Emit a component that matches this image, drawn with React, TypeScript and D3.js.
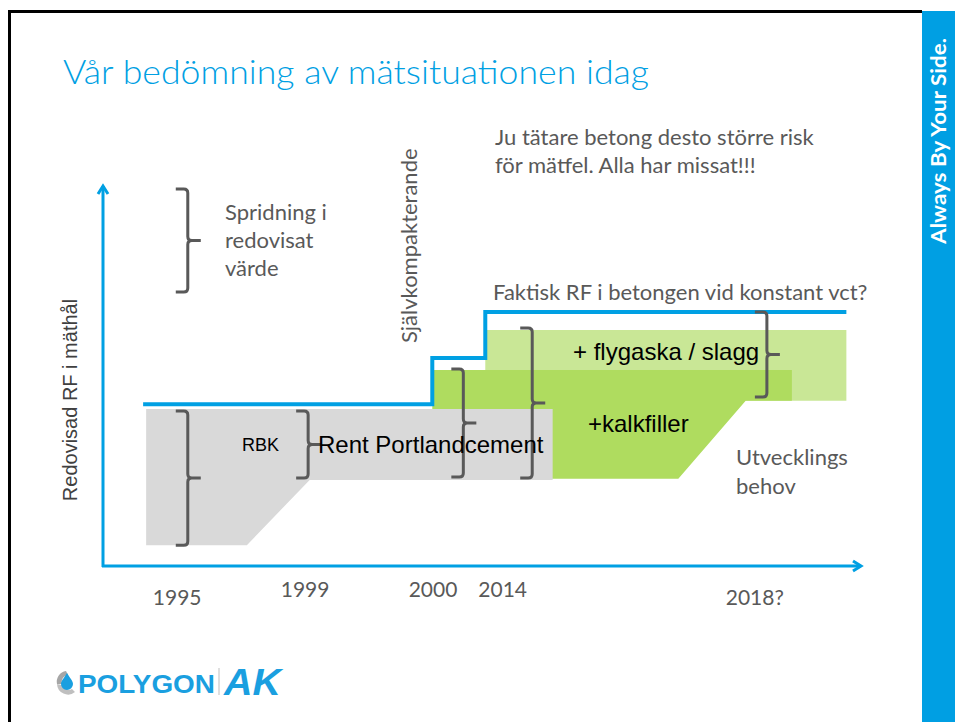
import { useEffect, useRef } from 'react';
import * as d3 from 'd3';

// schematic units: x = time line 0..100, y = RF level 0..100
const xTicks = ['1995', '1999', '2000', '2014', '2018?'];
const xTickPos = [9.8, 26.7, 43.6, 52.8, 86.1];

const grayBand: [number, number][] = [[5.7, 41.4], [59.4, 41.4], [59.4, 22.7], [27.3, 22.7], [19.0, 5.5], [5.7, 5.5]];
const greenBand: [number, number][] = [[43.5, 51.7], [91.0, 51.7], [91.0, 43.6], [84.9, 43.6], [76.0, 23.0], [43.5, 23.0]];
const lightGreenBand: [number, number][] = [[50.5, 62.3], [98.2, 62.3], [98.2, 43.6], [50.5, 43.6]];

// measured RF as a step line
const stepPoints: [number, number][] = [[5.3, 42.7], [43.5, 54.9], [50.5, 67.0], [98.2, 67.0]];

// brackets: x, top, bottom
const brackets: [number, number, number][] = [
  [11.2, 99.5, 72.3],
  [11.2, 40.9, 5.5],
  [27.1, 40.9, 23.2],
  [47.6, 52.0, 23.5],
  [56.7, 62.8, 23.2],
  [87.7, 67.0, 44.6],
];

const BLUE = '#00A0E3';
const GRAY_TEXT = '#595959';
const CAL = 'Lato, "Open Sans", sans-serif';
const ARIAL = '"Liberation Sans", Arial, sans-serif';

const App = () => {
  const svgRef = useRef<SVGSVGElement>(null);

  useEffect(() => {
    const svg = d3.select(svgRef.current);
    svg.selectAll('*').remove();

    const x = d3.scaleLinear().domain([0, 100]).range([103, 860]);
    const y = d3.scaleLinear().domain([0, 100]).range([566, 187]);

    // slide frame
    svg.append('path')
      .attr('d', 'M9.5,722 L9.5,11.5 L922,11.5')
      .attr('fill', 'none')
      .attr('stroke', '#000')
      .attr('stroke-width', 3);

    svg.append('rect')
      .attr('x', 922).attr('y', 11)
      .attr('width', 33).attr('height', 711)
      .attr('fill', '#009FE3');

    svg.append('text')
      .attr('transform', 'translate(946,141) rotate(-90)')
      .attr('text-anchor', 'middle')
      .attr('font-family', CAL)
      .attr('font-weight', 700)
      .attr('font-size', 20)
      .attr('textLength', 206)
      .attr('lengthAdjust', 'spacingAndGlyphs')
      .attr('fill', '#fff')
      .text('Always By Your Side.');

    svg.append('text')
      .attr('x', 63).attr('y', 84)
      .attr('font-family', CAL)
      .attr('font-weight', 300)
      .attr('font-size', 33)
      .attr('textLength', 586)
      .attr('lengthAdjust', 'spacingAndGlyphs')
      .attr('fill', BLUE)
      .text('Vår bedömning av mätsituationen idag');

    const poly = d3.line<[number, number]>().x(d => x(d[0])).y(d => y(d[1]));

    svg.append('path').attr('d', poly(lightGreenBand) + 'Z').attr('fill', '#C9E796');
    svg.append('path').attr('d', poly(greenBand) + 'Z').attr('fill', '#AFDC5F');
    svg.append('path').attr('d', poly(grayBand) + 'Z').attr('fill', '#D9D9D9');

    const step = d3.line<[number, number]>()
      .x(d => x(d[0])).y(d => y(d[1]))
      .curve(d3.curveStepAfter);
    svg.append('path')
      .attr('d', step(stepPoints))
      .attr('fill', 'none')
      .attr('stroke', BLUE)
      .attr('stroke-width', 4);

    // axes
    const axisG = svg.append('g').attr('stroke', BLUE).attr('stroke-width', 3).attr('fill', 'none');
    axisG.append('line').attr('x1', x(0)).attr('x2', x(0)).attr('y1', y(0) + 1).attr('y2', y(100) - 1);
    axisG.append('line').attr('x1', x(0) - 1).attr('x2', x(100) + 1).attr('y1', y(0)).attr('y2', y(0));
    axisG.append('path').attr('d', `M${x(0) - 5},${y(100) + 7} L${x(0)},${y(100) - 1} L${x(0) + 5},${y(100) + 7}`);
    axisG.append('path').attr('d', `M${x(100) - 7},${y(0) - 5} L${x(100) + 1},${y(0)} L${x(100) - 7},${y(0) + 5}`);

    const lowered = new Set(['1995', '2018?']);
    svg.append('g')
      .selectAll('text')
      .data(xTicks)
      .join('text')
      .attr('x', (d, i) => x(xTickPos[i]))
      .attr('y', d => lowered.has(d) ? 605 : 597)
      .attr('text-anchor', 'middle')
      .attr('font-family', CAL)
      .attr('font-size', 21)
      .attr('fill', GRAY_TEXT)
      .text(d => d);

    svg.append('text')
      .attr('transform', 'translate(77,400) rotate(-90)')
      .attr('text-anchor', 'middle')
      .attr('font-family', ARIAL)
      .attr('font-size', 20)
      .attr('fill', '#404040')
      .text('Redovisad RF i mäthål');

    // brackets
    const bracketPath = (bx: number, top: number, bot: number) => {
      const vx = x(bx), t = y(top), b = y(bot), m = (t + b) / 2;
      return `M${vx - 12},${t} L${vx - 4},${t} Q${vx},${t} ${vx},${t + 4} L${vx},${m - 4} Q${vx},${m} ${vx + 4},${m} L${vx + 13},${m}` +
        ` M${vx + 4},${m} Q${vx},${m} ${vx},${m + 4} L${vx},${b - 4} Q${vx},${b} ${vx - 4},${b} L${vx - 12},${b}`;
    };
    svg.append('g')
      .selectAll('path')
      .data(brackets)
      .join('path')
      .attr('d', d => bracketPath(d[0], d[1], d[2]))
      .attr('fill', 'none')
      .attr('stroke', GRAY_TEXT)
      .attr('stroke-width', 3);

    const grayText = (tx: number, ty: number, lines: string[], lh = 28) => {
      const t = svg.append('text')
        .attr('font-family', CAL)
        .attr('font-size', 22)
        .attr('fill', GRAY_TEXT);
      lines.forEach((l, i) => t.append('tspan').attr('x', tx).attr('y', ty + i * lh).text(l));
    };
    grayText(225, 220, ['Spridning i', 'redovisat', 'värde']);
    grayText(495, 145, ['Ju tätare betong desto större risk', 'för mätfel. Alla har missat!!!']);
    grayText(493, 300, ['Faktisk RF i betongen vid konstant vct?']);
    grayText(736, 465, ['Utvecklings', 'behov'], 29);

    svg.append('text')
      .attr('transform', 'translate(417,343) rotate(-90)')
      .attr('font-family', CAL)
      .attr('font-size', 22)
      .attr('fill', GRAY_TEXT)
      .text('Självkompakterande');

    const blackText = (tx: number, ty: number, s: string, size: number) =>
      svg.append('text')
        .attr('x', tx).attr('y', ty)
        .attr('font-family', ARIAL)
        .attr('font-size', size)
        .attr('fill', '#000')
        .text(s);
    blackText(242, 451, 'RBK', 18);
    blackText(318, 453, 'Rent Portlandcement', 24);
    blackText(573, 360, '+ flygaska / slagg', 24);
    blackText(588, 432, '+kalkfiller', 24);

    // logo
    const logo = svg.append('g');
    logo.append('path')
      .attr('d', 'M57,684 A11,11 0 0,1 66,671 L68,675 A7,7 0 0,0 62,684 Z')
      .attr('fill', '#A6A6A6');
    logo.append('path')
      .attr('d', 'M57,684 A11,11 0 0,0 75,692 L72,689 A7,7 0 0,1 62,685 Z')
      .attr('fill', '#BFBFBF');
    logo.append('path')
      .attr('d', 'M67,673 C70,678 73,681 73,684 A6,6 0 0,1 61,684 C61,681 64,678 67,673 Z')
      .attr('fill', '#1A9FE0');
    logo.append('text')
      .attr('x', 78).attr('y', 693)
      .attr('font-family', ARIAL)
      .attr('font-weight', 900)
      .attr('font-size', 26)
      .attr('textLength', 137)
      .attr('lengthAdjust', 'spacingAndGlyphs')
      .attr('fill', '#1A9FE0')
      .text('POLYGON');
    logo.append('line')
      .attr('x1', 219).attr('x2', 219).attr('y1', 668).attr('y2', 695)
      .attr('stroke', '#BFBFBF').attr('stroke-width', 1);
    logo.append('text')
      .attr('x', 224).attr('y', 695)
      .attr('font-family', ARIAL)
      .attr('font-weight', 700)
      .attr('font-style', 'italic')
      .attr('font-size', 37)
      .attr('textLength', 57)
      .attr('lengthAdjust', 'spacingAndGlyphs')
      .attr('fill', '#1A9FE0')
      .text('AK');
  }, []);

  return (
    <svg
      ref={svgRef}
      width={955}
      height={722}
      style={{ position: 'absolute', left: 0, top: 0, display: 'block', background: '#fff' }}
    />
  );
};

export default App;
